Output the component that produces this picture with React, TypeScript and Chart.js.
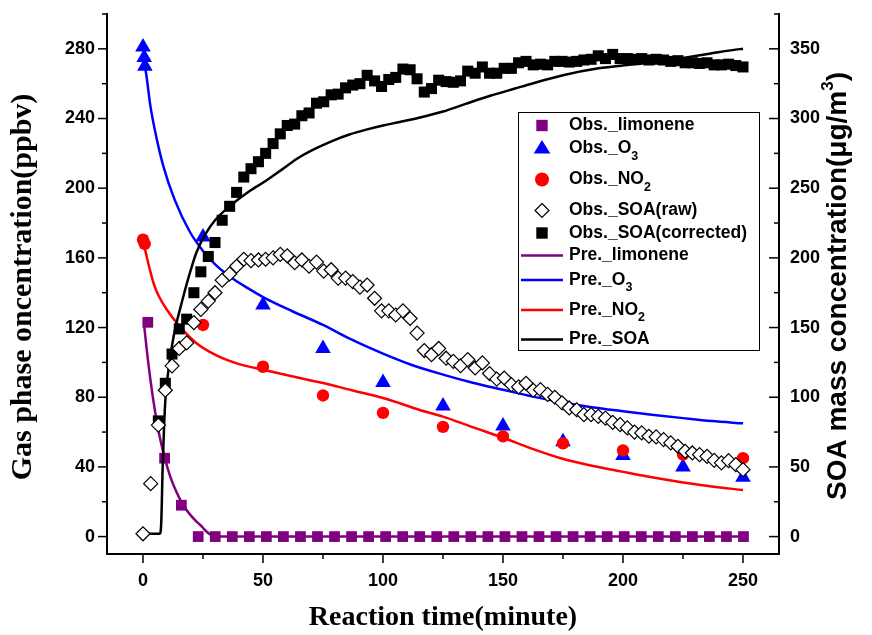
import React, { useEffect, useRef } from 'react';
import { Chart, registerables } from 'chart.js';

Chart.register(...registerables);

type Pt = [number, number];

// ---------- data (time in minutes, value) ----------
const OBS_LIMONENE: Pt[] = [
  [2, 123], [9, 45], [16, 18], [23, 0], [30.1, 0], [37.2, 0], [44.3, 0], [51.4, 0], [58.5, 0],
  [65.6, 0], [72.7, 0], [79.8, 0], [86.9, 0], [94, 0], [101.1, 0], [108.2, 0], [115.3, 0],
  [122.4, 0], [129.5, 0], [136.6, 0], [143.7, 0], [150.8, 0], [157.9, 0], [165, 0], [172.1, 0],
  [179.2, 0], [186.3, 0], [193.4, 0], [200.5, 0], [207.6, 0], [214.7, 0], [221.8, 0],
  [228.9, 0], [236, 0], [243.1, 0], [250.2, 0],
];

const OBS_O3: Pt[] = [
  [0, 281], [0.5, 275], [0.8, 270], [25, 172], [50, 133], [75, 108], [100, 88.5],
  [125, 75], [150, 63.5], [175, 54.5], [200, 46.5], [225, 40], [250, 34],
];

const OBS_NO2: Pt[] = [
  [0, 170.5], [0.7, 168], [25, 121.5], [50, 97.5], [75, 81], [100, 71], [125, 63],
  [150, 57.5], [175, 53.5], [200, 49.5], [225, 47], [250, 45],
];

const OBS_SOA_RAW: Pt[] = [
  [0, 2], [3.2, 38], [6.4, 80], [9.3, 105], [12.1, 122.5], [15.1, 135], [18.2, 139],
  [21.2, 153.5], [24.1, 163], [27.2, 169], [30, 175], [33, 184], [36.1, 188.5], [39, 194],
  [42, 199], [45, 198], [48.1, 198.5], [51.1, 199], [54.2, 200], [57.2, 202.5], [60.1, 201.5],
  [63.2, 196.5], [66.2, 198.5], [69.2, 194], [72.3, 197], [75.3, 190.5], [78.4, 191.5],
  [81.3, 185.5], [84.4, 185.5], [87.4, 183], [90.4, 179], [93.4, 180.5], [96.5, 171],
  [99.4, 162], [102.4, 162], [105.3, 159], [108.3, 162], [111.3, 156.5], [114.2, 146],
  [117.2, 133.5], [120.2, 130.5], [123.2, 135], [126.3, 128], [129.3, 125.7], [132.3, 122.6],
  [135.3, 127], [138.4, 121], [141.4, 124.6], [144.4, 117], [147.4, 113], [150.5, 113.8],
  [153.5, 109], [156.5, 107.4], [159.6, 110], [162.6, 105], [165.6, 105.4], [168.6, 102],
  [171.6, 100], [174.6, 96], [177.6, 92.3], [180.7, 91], [183.7, 87.5], [186.7, 87.5],
  [189.7, 86.3], [192.7, 85], [195.7, 82], [198.8, 80.3], [201.8, 78], [204.8, 75],
  [207.8, 74.4], [210.8, 72], [213.8, 71.5], [216.9, 69.6], [219.9, 67.2], [222.9, 64.8],
  [225.9, 61.2], [228.9, 60], [231.9, 58.8], [235, 57.6], [238, 54.7], [241, 52.9],
  [244, 54.5], [247, 51.6], [250, 48],
];

const OBS_SOA_CORRECTED: Pt[] = [
  [6.4, 83], [9.3, 110], [12.1, 131], [15.1, 149], [18.2, 156], [21.2, 175], [24.1, 190],
  [27.2, 201], [30, 211], [33, 227], [36.1, 237], [39, 247], [42, 258], [45, 264],
  [48.1, 269], [51.1, 275], [54.2, 282], [57.2, 289], [60.1, 295], [63.2, 296], [66.2, 302],
  [69.2, 304], [72.3, 311], [75.3, 312], [78.4, 317], [81.3, 317.5], [84.4, 322], [87.4, 324],
  [90.4, 325], [93.4, 331], [96.5, 327], [99.4, 323], [102.4, 328], [105.3, 329.5],
  [108.3, 335.5], [111.3, 335], [114.2, 328.5], [117.2, 319], [120.2, 321.5], [123.2, 327.5],
  [126.3, 326.5], [129.3, 326], [132.3, 327], [135.3, 334], [138.4, 332.5], [141.4, 337],
  [144.4, 332.5], [147.4, 332.5], [150.5, 336], [153.5, 336], [156.5, 340], [159.6, 341],
  [162.6, 338.5], [165.6, 339], [168.6, 338.5], [171.6, 341], [174.6, 341], [177.6, 340.5],
  [180.7, 341], [183.7, 342], [186.7, 342.5], [189.7, 345], [192.7, 343], [195.7, 346],
  [198.8, 343], [201.8, 343], [204.8, 342.5], [207.8, 343], [210.8, 342], [213.8, 342.5],
  [216.9, 342], [219.9, 341], [222.9, 341.5], [225.9, 340], [228.9, 340], [231.9, 339.5],
  [235, 340], [238, 338.5], [241, 338.5], [244, 339], [247, 338], [250, 337],
];

const PRE_LIMONENE: Pt[] = [
  [0.5, 121], [1, 114.5], [2, 102], [3, 91], [4, 81], [5, 72], [6, 64], [7, 57], [8, 51],
  [9, 45.5], [10, 40.5], [12, 32], [14, 25.5], [16, 20], [18, 15.5], [20, 12], [22, 9],
  [24, 6.5], [26, 3.5], [28, 1.2], [30, 0.3], [32, 0], [250, 0],
];

const PRE_O3: Pt[] = [
  [0.8, 270], [1.5, 264], [3, 248], [5, 233], [8.4, 213], [13.3, 193], [19.5, 175],
  [25, 164], [30.6, 155.5], [37.5, 148], [44.4, 142], [50, 137.5], [62, 129.5], [75, 121.5],
  [87, 113], [100, 105], [112, 98.5], [125, 93], [137, 88.5], [150, 84.3], [162, 80.5],
  [175, 77], [187, 74.3], [200, 72], [212, 70], [225, 68], [237, 66.3], [250, 65],
];

const PRE_NO2: Pt[] = [
  [0, 170], [1.5, 161], [2.9, 153], [4.5, 145], [6.4, 138.5], [9.8, 130.5], [15.4, 120.5],
  [22.3, 111], [30.6, 104], [40, 99], [50, 95.8], [62, 92], [75, 88.2], [87, 84],
  [100, 79.6], [106.7, 76.7], [115, 72.8], [124.7, 69], [137, 63], [149.6, 57],
  [162, 50.5], [174.5, 44.8], [187, 40.7], [199.5, 37.3], [212, 34], [224.4, 31.2],
  [237, 28.8], [250, 26.7],
];

const PRE_SOA: Pt[] = [
  [0, 2], [7, 2], [7.6, 10], [8.2, 50], [8.8, 80], [9.4, 100], [10.5, 118], [12, 136],
  [13.5, 150], [15.4, 163], [18, 180], [20.2, 193], [22.3, 204], [26, 217], [30, 227],
  [37.5, 239], [44, 247.5], [51.4, 255.5], [58, 263.5], [65, 272], [72, 278.5], [79, 284],
  [86, 288.5], [93, 292], [100, 295], [107, 297.5], [115, 300.5], [125, 305], [134.4, 310.5],
  [145, 316.5], [155, 321.5], [162, 325], [175, 331], [189.8, 336], [203.6, 338.7],
  [214, 340.7], [224.4, 343.3], [236, 346.5], [248.6, 349.8], [250, 350],
];

// ---------- tick values ----------
const X_MAJOR = [0, 50, 100, 150, 200, 250];
const X_MINOR = [25, 75, 125, 175, 225];
const Y_MAJOR = [0, 40, 80, 120, 160, 200, 240, 280];
const Y_MINOR = [20, 60, 100, 140, 180, 220, 260, 300];
const Y1_MAJOR = [0, 50, 100, 150, 200, 250, 300, 350];
const Y1_MINOR = [25, 75, 125, 175, 225, 275, 325, 375];

// ---------- text ----------
const X_TITLE = 'Reaction time(minute)';
const Y_TITLE = 'Gas phase oncentration(ppbv)';
const Y1_TITLE_MAIN = 'SOA mass concentration(μg/m';
const Y1_TITLE_SUP = '3';
const Y1_TITLE_TAIL = ')';

const PURPLE = '#800080';
const BLUE = '#0000FF';
const RED = '#FF0000';
const BLACK = '#000000';

type LegendItem = { label: string; sub: string; kind: string; color: string };
const LEGEND_ITEMS: LegendItem[] = [
  { label: 'Obs._limonene', sub: '', kind: 'rect', color: PURPLE },
  { label: 'Obs._O', sub: '3', kind: 'triangle', color: BLUE },
  { label: 'Obs._NO', sub: '2', kind: 'circle', color: RED },
  { label: 'Obs._SOA(raw)', sub: '', kind: 'diamond', color: BLACK },
  { label: 'Obs._SOA(corrected)', sub: '', kind: 'rect', color: BLACK },
  { label: 'Pre._limonene', sub: '', kind: 'line', color: PURPLE },
  { label: 'Pre._O', sub: '3', kind: 'line', color: BLUE },
  { label: 'Pre._NO', sub: '2', kind: 'line', color: RED },
  { label: 'Pre._SOA', sub: '', kind: 'line', color: BLACK },
];

// layout
const LEGEND_BOX = { x: 518, y: 112, w: 241, h: 238 };
const LEGEND_ROW_Y = [125.5, 148.5, 179.5, 210.5, 233, 255.5, 280, 310, 339.5];
const SANS = '"Liberation Sans", Arial, sans-serif';
const SERIF = '"Liberation Serif", "Times New Roman", serif';

const toXY = (a: Pt[]) => a.map(([x, y]) => ({ x, y }));

const decorations = {
  id: 'decorations',
  afterDraw(chart: any) {
    const { ctx, chartArea } = chart;
    const { left, right, bottom } = chartArea;
    const xs = chart.scales.x;
    const ys = chart.scales.y;
    const y1 = chart.scales.y1;
    ctx.save();
    ctx.strokeStyle = '#000';
    ctx.lineWidth = 1.5;
    const seg = (ax: number, ay: number, bx: number, by: number) => {
      ctx.beginPath();
      ctx.moveTo(ax, ay);
      ctx.lineTo(bx, by);
      ctx.stroke();
    };
    Y_MAJOR.forEach((v) => { const p = ys.getPixelForValue(v); seg(left - 9, p, left, p); });
    Y_MINOR.forEach((v) => { const p = ys.getPixelForValue(v); seg(left - 5, p, left, p); });
    Y1_MAJOR.forEach((v) => { const p = y1.getPixelForValue(v); seg(right - 10, p, right, p); });
    Y1_MINOR.forEach((v) => { const p = y1.getPixelForValue(v); seg(right - 5, p, right, p); });
    X_MAJOR.forEach((v) => { const p = xs.getPixelForValue(v); seg(p, bottom, p, bottom + 9); });
    X_MINOR.forEach((v) => { const p = xs.getPixelForValue(v); seg(p, bottom, p, bottom + 5); });

    // titles
    ctx.fillStyle = '#000';
    ctx.textAlign = 'center';
    ctx.textBaseline = 'middle';
    ctx.font = `bold 28px ${SERIF}`;
    ctx.fillText(X_TITLE, (left + right) / 2, 618);

    ctx.save();
    ctx.translate(23, 287);
    ctx.rotate(-Math.PI / 2);
    ctx.font = `bold 30px ${SERIF}`;
    ctx.fillText(Y_TITLE, 0, 0);
    ctx.restore();

    ctx.save();
    ctx.translate(838, 286);
    ctx.rotate(-Math.PI / 2);
    ctx.textAlign = 'left';
    const mainFont = `bold 28px ${SANS}`;
    const supFont = `bold 17px ${SANS}`;
    ctx.font = mainFont;
    const wMain = ctx.measureText(Y1_TITLE_MAIN).width;
    const wTail = ctx.measureText(Y1_TITLE_TAIL).width;
    ctx.font = supFont;
    const wSup = ctx.measureText(Y1_TITLE_SUP).width;
    let cx = -(wMain + wSup + wTail) / 2;
    ctx.font = mainFont;
    ctx.fillText(Y1_TITLE_MAIN, cx, 0);
    cx += wMain;
    ctx.font = supFont;
    ctx.fillText(Y1_TITLE_SUP, cx, -10);
    cx += wSup;
    ctx.font = mainFont;
    ctx.fillText(Y1_TITLE_TAIL, cx, 0);
    ctx.restore();

    // legend
    const b = LEGEND_BOX;
    ctx.fillStyle = '#fff';
    ctx.fillRect(b.x, b.y, b.w, b.h);
    ctx.strokeStyle = '#000';
    ctx.lineWidth = 1;
    ctx.strokeRect(b.x + 0.5, b.y + 0.5, b.w, b.h);
    const mx = 542;
    LEGEND_ITEMS.forEach((it, i) => {
      const y = LEGEND_ROW_Y[i];
      ctx.fillStyle = it.color;
      ctx.strokeStyle = it.color;
      if (it.kind === 'rect') {
        ctx.fillRect(mx - 5.7, y - 5.7, 11.4, 11.4);
      } else if (it.kind === 'triangle') {
        ctx.beginPath();
        ctx.moveTo(mx, y - 8.5);
        ctx.lineTo(mx + 8.3, y + 5);
        ctx.lineTo(mx - 8.3, y + 5);
        ctx.closePath();
        ctx.fill();
      } else if (it.kind === 'circle') {
        ctx.beginPath();
        ctx.arc(mx, y, 7, 0, Math.PI * 2);
        ctx.fill();
      } else if (it.kind === 'diamond') {
        ctx.fillStyle = '#fff';
        ctx.strokeStyle = '#000';
        ctx.lineWidth = 1.2;
        ctx.beginPath();
        ctx.moveTo(mx, y - 7);
        ctx.lineTo(mx + 7, y);
        ctx.lineTo(mx, y + 7);
        ctx.lineTo(mx - 7, y);
        ctx.closePath();
        ctx.fill();
        ctx.stroke();
      } else {
        ctx.lineWidth = 2.5;
        seg(521, y, 563, y);
      }
      ctx.fillStyle = '#000';
      ctx.textAlign = 'left';
      ctx.textBaseline = 'middle';
      ctx.font = `bold 17.5px ${SANS}`;
      ctx.fillText(it.label, 569, y);
      if (it.sub) {
        const w = ctx.measureText(it.label).width;
        ctx.font = `bold 12.5px ${SANS}`;
        ctx.fillText(it.sub, 569 + w, y + 8);
      }
    });
    ctx.restore();
  },
};

export default function App() {
  const canvasRef = useRef<HTMLCanvasElement | null>(null);

  useEffect(() => {
    if (!canvasRef.current) return;
    const tickFont = { family: SANS, size: 18, weight: 'bold' as const };
    const marker = (data: Pt[], style: string, color: string, r: number, order: number, axis = 'y', fill?: string) => ({
      type: 'scatter' as const,
      data: toXY(data),
      yAxisID: axis,
      showLine: false,
      pointStyle: style,
      pointRadius: r,
      pointHoverRadius: r,
      pointBackgroundColor: fill ?? color,
      pointBorderColor: color,
      pointBorderWidth: fill ? 1.2 : 0,
      order,
    });
    const curve = (data: Pt[], color: string, order: number, axis = 'y') => ({
      type: 'scatter' as const,
      data: toXY(data),
      yAxisID: axis,
      showLine: true,
      borderColor: color,
      borderWidth: 2.5,
      pointRadius: 0,
      pointHoverRadius: 0,
      cubicInterpolationMode: 'monotone' as const,
      fill: false,
      order,
    });
    const noPadV = (w: number) => (s: any) => {
      s.width = w;
      s.paddingTop = 0;
      s.paddingBottom = 0;
    };

    const chart = new Chart(canvasRef.current, {
      type: 'scatter',
      data: {
        datasets: [
          marker(OBS_LIMONENE, 'rect', PURPLE, 7.6, 5),
          marker(OBS_O3, 'triangle', BLUE, 9, 4),
          marker(OBS_NO2, 'circle', RED, 6.2, 3),
          marker(OBS_SOA_RAW, 'rectRot', BLACK, 7, 0, 'y1', '#ffffff'),
          marker(OBS_SOA_CORRECTED, 'rect', BLACK, 7.8, 1, 'y1'),
          curve(PRE_LIMONENE, PURPLE, 8),
          curve(PRE_O3, BLUE, 7),
          curve(PRE_NO2, RED, 6),
          curve(PRE_SOA, BLACK, 2, 'y1'),
        ] as any,
      },
      options: {
        responsive: false,
        animation: false,
        events: [],
        layout: { padding: { top: 14, left: 0, right: 0, bottom: 0 } },
        plugins: { legend: { display: false }, tooltip: { enabled: false } },
        scales: {
          x: {
            type: 'linear',
            position: 'bottom',
            min: -15,
            max: 265,
            afterBuildTicks: (s: any) => { s.ticks = X_MAJOR.map((v) => ({ value: v })); },
            afterFit: (s: any) => { s.height = 81; s.paddingLeft = 0; s.paddingRight = 0; },
            grid: { display: false, drawTicks: false },
            border: { display: true, color: '#000', width: 2 },
            ticks: { padding: 16, color: '#000', font: tickFont, autoSkip: false, maxRotation: 0 },
          },
          y: {
            type: 'linear',
            position: 'left',
            min: -10,
            max: 300,
            afterBuildTicks: (s: any) => { s.ticks = Y_MAJOR.map((v) => ({ value: v })); },
            afterFit: noPadV(107),
            grid: { display: false, drawTicks: false },
            border: { display: true, color: '#000', width: 2 },
            ticks: { padding: 12, color: '#000', font: tickFont, autoSkip: false },
          },
          y1: {
            type: 'linear',
            position: 'right',
            min: -12.5,
            max: 375,
            afterBuildTicks: (s: any) => { s.ticks = Y1_MAJOR.map((v) => ({ value: v })); },
            afterFit: noPadV(93),
            grid: { display: false, drawTicks: false },
            border: { display: true, color: '#000', width: 2 },
            ticks: { padding: 11, color: '#000', font: tickFont, autoSkip: false },
          },
        },
      } as any,
      plugins: [decorations],
    });
    return () => chart.destroy();
  }, []);

  return (
    <div style={{ position: 'absolute', left: 0, top: 0, width: 872, height: 635, background: '#fff' }}>
      <canvas ref={canvasRef} width={872} height={635} style={{ display: 'block' }} />
    </div>
  );
}
